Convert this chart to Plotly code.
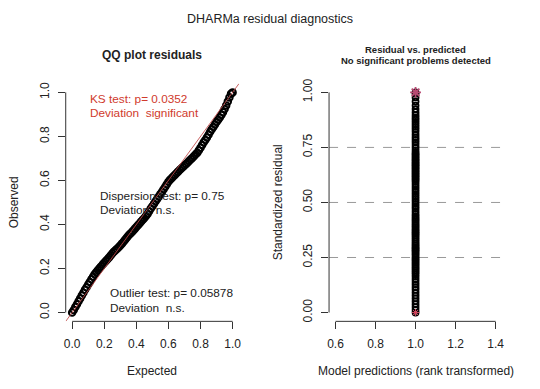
import plotly.graph_objects as go

# ---------------- data ----------------
expected = [0.00, 0.01, 0.02, 0.03, 0.04, 0.05, 0.06, 0.07, 0.08, 0.09,
            0.10, 0.11, 0.12, 0.13, 0.14, 0.15, 0.16, 0.17, 0.18, 0.19,
            0.20, 0.21, 0.22, 0.23, 0.24, 0.25, 0.26, 0.27, 0.28, 0.29,
            0.30, 0.31, 0.32, 0.33, 0.34, 0.35, 0.36, 0.37, 0.38, 0.39,
            0.40, 0.41, 0.42, 0.43, 0.44, 0.45, 0.46, 0.47, 0.48, 0.49,
            0.50, 0.51, 0.52, 0.53, 0.54, 0.55, 0.56, 0.57, 0.58, 0.59,
            0.60, 0.61, 0.62, 0.63, 0.64, 0.65, 0.66, 0.67, 0.68, 0.69,
            0.70, 0.71, 0.72, 0.73, 0.74, 0.75, 0.76, 0.77, 0.78, 0.79,
            0.80, 0.81, 0.82, 0.83, 0.84, 0.85, 0.86, 0.87, 0.88, 0.89,
            0.90, 0.91, 0.92, 0.93, 0.94, 0.95, 0.96, 0.97, 0.98, 0.99, 1.00]
observed = [0.000, 0.012, 0.025, 0.038, 0.051, 0.064, 0.077, 0.090, 0.103, 0.115,
            0.127, 0.139, 0.151, 0.163, 0.174, 0.183, 0.192, 0.201, 0.209, 0.218,
            0.226, 0.234, 0.242, 0.250, 0.259, 0.268, 0.276, 0.283, 0.290, 0.297,
            0.305, 0.313, 0.322, 0.331, 0.340, 0.349, 0.357, 0.364, 0.372, 0.380,
            0.388, 0.396, 0.404, 0.413, 0.421, 0.429, 0.438, 0.448, 0.460, 0.472,
            0.483, 0.494, 0.505, 0.516, 0.527, 0.538, 0.549, 0.560, 0.571, 0.583,
            0.594, 0.603, 0.610, 0.618, 0.625, 0.633, 0.640, 0.647, 0.654, 0.661,
            0.668, 0.675, 0.682, 0.689, 0.696, 0.703, 0.711, 0.719, 0.726, 0.737,
            0.749, 0.761, 0.773, 0.784, 0.795, 0.808, 0.821, 0.832, 0.843, 0.854,
            0.865, 0.876, 0.886, 0.897, 0.910, 0.924, 0.940, 0.958, 0.977, 0.994, 1.000]
ref_line = [-0.04, 1.04]

prediction_rank = [1.0] * len(observed)
outlier_top_x = [1.0]
outlier_top_y = [1.0]
outlier_bottom_x = [1.0]
outlier_bottom_y = [0.0]
grid_levels = [0.25, 0.50, 0.75]

qq_xticks = [0.0, 0.2, 0.4, 0.6, 0.8, 1.0]
qq_yticks = [0.0, 0.2, 0.4, 0.6, 0.8, 1.0]
rv_xticks = [0.6, 0.8, 1.0, 1.2, 1.4]
rv_yticks = [0.00, 0.25, 0.50, 0.75, 1.00]

main_title = "DHARMa residual diagnostics"
qq_title = "QQ plot residuals"
rv_title = ["Residual vs. predicted", "No significant problems detected"]
ks_text = ["KS test: p= 0.0352", "Deviation  significant"]
disp_text = ["Dispersion test: p= 0.75", "Deviation  n.s."]
out_text = ["Outlier test: p= 0.05878", "Deviation  n.s."]

# ---------------- layout helpers ----------------
W, H = 540, 389
FONT = "Liberation Sans, Arial, Helvetica, sans-serif"


def px(x):
    return x / W


def py(y):
    return 1 - y / H


top, bottom = 79.8, 321.3
left_dom = [px(64.2), px(238.8)]
right_dom = [px(329.5), px(503.8)]
ydom = [py(bottom), py(top)]

fig = go.Figure()

# QQ plot points
fig.add_trace(go.Scatter(
    x=expected, y=observed, mode="markers", xaxis="x", yaxis="y",
    marker=dict(symbol="circle-open", size=6.5, color="black",
                line=dict(width=2, color="black")),
    showlegend=False, hoverinfo="skip"))
# reference line
fig.add_trace(go.Scatter(
    x=ref_line, y=ref_line, mode="lines", xaxis="x", yaxis="y",
    line=dict(color="rgba(190,70,70,0.85)", width=1),
    showlegend=False, hoverinfo="skip"))

# residual vs predicted
fig.add_trace(go.Scatter(
    x=prediction_rank, y=observed, mode="markers", xaxis="x2", yaxis="y2",
    marker=dict(symbol="circle-open", size=6, color="black",
                line=dict(width=1.8, color="black")),
    showlegend=False, hoverinfo="skip"))
fig.add_trace(go.Scatter(
    x=outlier_top_x, y=outlier_top_y, mode="markers", xaxis="x2", yaxis="y2",
    marker=dict(symbol="asterisk-open", size=9, color="#b84a72",
                line=dict(width=1.8, color="#b84a72")),
    showlegend=False, hoverinfo="skip"))
fig.add_trace(go.Scatter(
    x=outlier_bottom_x, y=outlier_bottom_y, mode="markers", xaxis="x2", yaxis="y2",
    marker=dict(symbol="asterisk-open", size=6, color="#d0405a",
                line=dict(width=1, color="#d0405a")),
    showlegend=False, hoverinfo="skip"))

axis_common = dict(
    showgrid=False, zeroline=False, showline=False,
    ticks="outside", ticklen=7, tickwidth=1, tickcolor="#333",
    tickfont=dict(family=FONT, size=12, color="#222"),
    ticklabelstandoff=4,
)

fig.update_layout(
    width=W, height=H,
    margin=dict(l=0, r=0, t=0, b=0),
    paper_bgcolor="white", plot_bgcolor="white",
    font=dict(family=FONT, color="#222"),
    xaxis=dict(domain=left_dom, anchor="y", range=[-0.04, 1.04],
               tickvals=qq_xticks, tickformat=".1f", **axis_common),
    yaxis=dict(domain=ydom, anchor="x", range=[-0.04, 1.04],
               tickvals=qq_yticks, tickformat=".1f", tickangle=-90, **axis_common),
    xaxis2=dict(domain=right_dom, anchor="y2", range=[0.568, 1.432],
                tickvals=rv_xticks, tickformat=".1f", **axis_common),
    yaxis2=dict(domain=ydom, anchor="x2", range=[-0.04, 1.04],
                tickvals=rv_yticks, tickformat=".2f", tickangle=-90, **axis_common),
)

# axis lines from first to last tick (R style)
shapes = []
for xa, ya, xt, yt in [("x", "y", qq_xticks, qq_yticks), ("x2", "y2", rv_xticks, rv_yticks)]:
    shapes.append(dict(type="line", xref=xa, yref=ya + " domain",
                       x0=xt[0], x1=xt[-1], y0=0, y1=0,
                       line=dict(color="#333", width=1)))
    shapes.append(dict(type="line", xref=xa + " domain", yref=ya,
                       x0=0, x1=0, y0=yt[0], y1=yt[-1],
                       line=dict(color="#333", width=1)))
for g in grid_levels:
    shapes.append(dict(type="line", xref="x2 domain", yref="y2",
                       x0=0, x1=1, y0=g, y1=g, layer="below",
                       line=dict(color="#999", width=1, dash="dash")))
fig.update_layout(shapes=shapes)

ann = []


def text(x, y, s, size=12, color="#222", bold=False, xref="paper", yref="paper",
         xanchor="center", angle=0):
    ann.append(dict(x=x, y=y, xref=xref, yref=yref, text=f"<b>{s}</b>" if bold else s,
                    showarrow=False, xanchor=xanchor, yanchor="middle", textangle=angle,
                    font=dict(family=FONT, size=size, color=color)))


text(px(270), py(14), main_title, size=12.5)
text(px(151.5), py(50.5), qq_title, size=12, bold=True)
text(px(416.7), py(44.7), rv_title[0], size=9.5, bold=True)
text(px(416.7), py(56), rv_title[1], size=9.5, bold=True)

red = "#d03a2c"
text(0.099, 0.972, ks_text[0], size=11.8, color=red, xref="x", yref="y", xanchor="left")
text(0.099, 0.908, ks_text[1], size=11.8, color=red, xref="x", yref="y", xanchor="left")
text(0.161, 0.529, disp_text[0], size=11.8, xref="x", yref="y", xanchor="left")
text(0.161, 0.465, disp_text[1], size=11.8, xref="x", yref="y", xanchor="left")
text(0.223, 0.088, out_text[0], size=11.8, xref="x", yref="y", xanchor="left")
text(0.223, 0.022, out_text[1], size=11.8, xref="x", yref="y", xanchor="left")

text(px(151.5), py(372), "Expected", size=12)
text(px(416.7), py(372), "Model predictions (rank transformed)", size=12)
text(px(13), py(200.5), "Observed", size=12, angle=-90)
text(px(278), py(200.5), "Standardized residual", size=12, angle=-90)

fig.update_layout(annotations=ann)

fig.write_html("out.html", config={"displayModeBar": False},
               post_script="document.body.style.margin='0';")
